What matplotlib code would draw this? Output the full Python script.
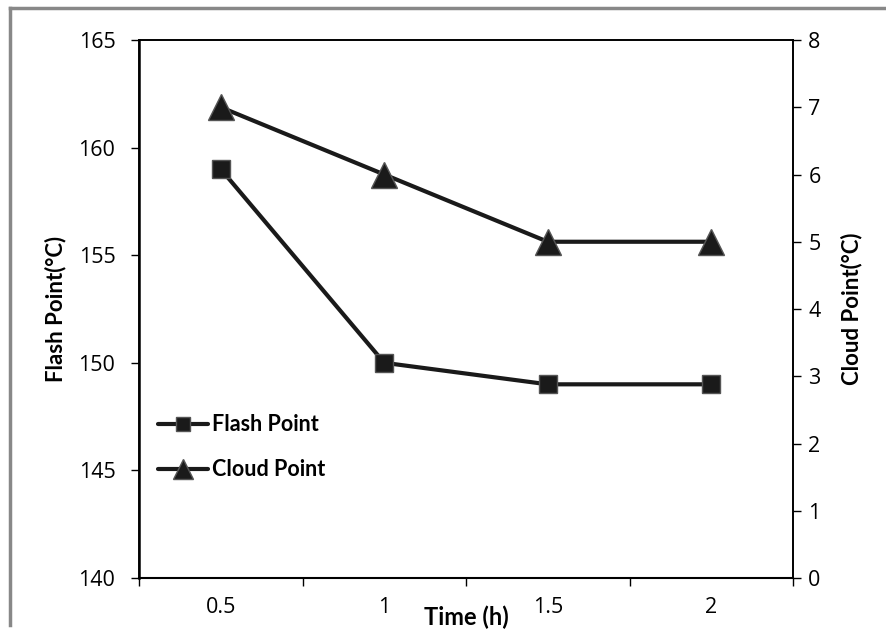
import matplotlib
matplotlib.use("Agg")
import matplotlib.pyplot as plt
from matplotlib.lines import Line2D

# Data
categories = ["0.5", "1", "1.5", "2"]
flash_point = [159, 150, 149, 149]
cloud_point = [7, 6, 5, 5]
left_ticks = [140, 145, 150, 155, 160, 165]
right_ticks = [0, 1, 2, 3, 4, 5, 6, 7, 8]

TICK_FONT = "Open Sans"
LABEL_FONT = "Lato"
DARK = "#1a1a1a"

fig = plt.figure(figsize=(8.86, 6.29), dpi=100)
L, R, T, B = 139, 793, 40, 578
ax = fig.add_axes([L/886, 1-B/629, (R-L)/886, (B-T)/629])
ax2 = ax.twinx()

x = list(range(len(categories)))
l1, = ax.plot(x, flash_point, color=DARK, lw=3, marker="s", ms=13,
              mfc=DARK, mec="#555555", mew=1, solid_capstyle="round", zorder=3)
l2, = ax2.plot(x, cloud_point, color=DARK, lw=3, marker="^", ms=19,
               mfc=DARK, mec="#555555", mew=1, solid_capstyle="round", zorder=3)

ax.set_xlim(-0.5, len(categories) - 0.5)
ax.set_ylim(140, 165)
ax2.set_ylim(0, 8)
ax.set_yticks(left_ticks)
ax2.set_yticks(right_ticks)

# category axis: major ticks at boundaries, labels at centers
ax.set_xticks([i - 0.5 for i in range(len(categories) + 1)])
ax.set_xticklabels([])
ax.set_xticks(x, minor=True)
ax.set_xticklabels(categories, minor=True, fontfamily=TICK_FONT, fontsize=15.5)
ax.tick_params(axis="x", which="major", direction="out", length=6, width=1, color="black")
ax.tick_params(axis="x", which="minor", length=0, pad=14)

ax.tick_params(axis="y", direction="out", length=6, width=1, pad=11, labelsize=15.5)
ax2.tick_params(axis="y", direction="out", length=6, width=1, pad=5, labelsize=15.5)
for lab in ax.get_yticklabels() + ax2.get_yticklabels():
    lab.set_fontfamily(TICK_FONT)

for a in (ax, ax2):
    for s in a.spines.values():
        s.set_linewidth(1.2)
        s.set_color("black")
ax.spines["left"].set_linewidth(1.8)
ax.spines["bottom"].set_linewidth(1.5)

ax.set_ylabel("Flash Point(°C)", fontfamily=LABEL_FONT, fontweight="bold", fontsize=16)
ax2.set_ylabel("Cloud Point(°C)", fontfamily=LABEL_FONT, fontweight="bold", fontsize=16)
ax.yaxis.set_label_coords((66 - L) / (R - L), 0.5)
ax2.yaxis.set_label_coords((841 - L) / (R - L), 0.5)
fig.text(466/886, 1-617/629, "Time (h)", fontfamily=LABEL_FONT, fontweight="bold",
         fontsize=17, ha="center", va="center")

leg = ax2.legend([l1, l2], ["Flash Point", "Cloud Point"], loc="upper left",
                 bbox_to_anchor=(0.0, 0.34), frameon=False, markerscale=0.75,
                 handlelength=2.3, handletextpad=0.2, labelspacing=1.1,
                 prop={"family": LABEL_FONT, "weight": "bold", "size": 15.5})

# gray frame lines (top and left)
fig.add_artist(Line2D([10/886, 1.0], [1-8/629, 1-8/629], transform=fig.transFigure,
                      color="#888888", lw=2.5))
fig.add_artist(Line2D([10/886, 10/886], [1-8/629, 1-625/629], transform=fig.transFigure,
                      color="#888888", lw=2.5))

fig.savefig("out.png", dpi=100)
